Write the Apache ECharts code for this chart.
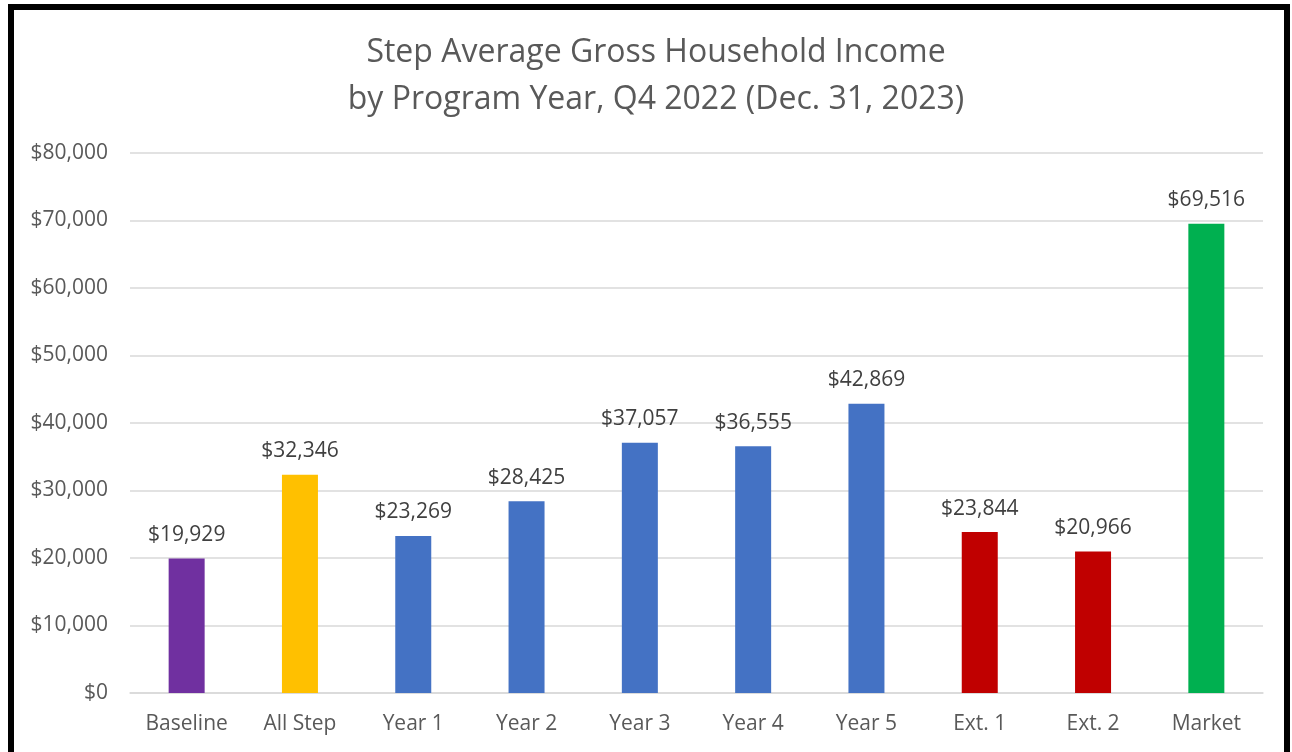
<!DOCTYPE html>
<html>
<head>
<meta charset="utf-8">
<script src="https://cdn.jsdelivr.net/npm/echarts@6/dist/echarts.min.js"></script>
<style>
html, body { margin: 0; padding: 0; background: #fff; }
#chart { width: 1292px; height: 752px; }
</style>
</head>
<body>
<div id="chart"></div>
<script>
var categories = ['Baseline', 'All Step', 'Year 1', 'Year 2', 'Year 3', 'Year 4', 'Year 5', 'Ext. 1', 'Ext. 2', 'Market'];
var incomeValues = [19929, 32346, 23269, 28425, 37057, 36555, 42869, 23844, 20966, 69516];
var barColors = ['#7030A0', '#FFC000', '#4472C4', '#4472C4', '#4472C4', '#4472C4', '#4472C4', '#C00000', '#C00000', '#00B050'];

var fontName = 'Open Sans';

function money(v) {
    return '$' + v.toLocaleString('en-US');
}

var chart = echarts.init(document.getElementById('chart'));

var option = {
    animation: false,
    title: {
        text: 'Step Average Gross Household Income\nby Program Year, Q4 2022 (Dec. 31, 2023)',
        left: 651,
        top: 24,
        textAlign: 'center',
        textStyle: {
            color: '#595959',
            fontFamily: fontName,
            fontWeight: 'normal',
            fontSize: 32,
            lineHeight: 47
        }
    },
    grid: {
        left: 130,
        right: 29,
        top: 153,
        bottom: 59
    },
    xAxis: {
        type: 'category',
        data: categories,
        axisLine: { lineStyle: { color: '#d9d9d9', width: 1.5 } },
        axisTick: { show: false },
        axisLabel: {
            color: '#595959',
            fontFamily: fontName,
            fontSize: 21,
            margin: 21
        }
    },
    yAxis: {
        type: 'value',
        min: 0,
        max: 80000,
        interval: 10000,
        axisLine: { show: false },
        axisTick: { show: false },
        splitLine: { lineStyle: { color: '#d9d9d9', width: 1.5 } },
        axisLabel: {
            color: '#595959',
            fontFamily: fontName,
            fontSize: 21,
            margin: 22,
            formatter: money
        }
    },
    series: [{
        type: 'bar',
        barWidth: 36,
        data: incomeValues.map(function (v, i) {
            return { value: v, itemStyle: { color: barColors[i] } };
        }),
        label: {
            show: true,
            position: 'top',
            distance: 13,
            color: '#404040',
            fontFamily: fontName,
            fontSize: 21,
            formatter: function (p) { return money(p.value); }
        }
    }],
    graphic: [{
        type: 'rect',
        shape: { x: 11, y: 7, width: 1276, height: 800 },
        style: { fill: 'none', stroke: '#000', lineWidth: 6 },
        silent: true
    }]
};

chart.setOption(option);
</script>
</body>
</html>
